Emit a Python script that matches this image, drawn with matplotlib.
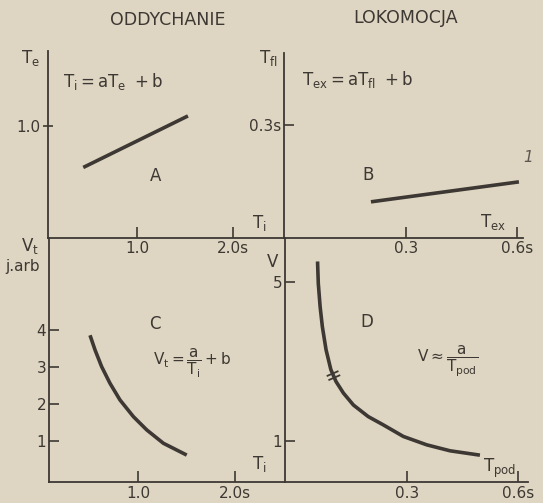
import matplotlib.pyplot as plt
import numpy as np
from matplotlib.lines import Line2D

#------------------- dane -------------------
# A: T_i = a*T_e + b
a_x = [0.44, 1.53]
a_y = [0.63, 1.09]
# B: T_ex = a*T_fl + b
b_x = [0.205, 0.605]
b_y = [0.096, 0.149]
# C: V_t = a/T_i + b
c_x = [0.505, 0.557, 0.625, 0.711, 0.814, 0.952, 1.090, 1.261, 1.502]
c_y = [3.86, 3.46, 3.01, 2.56, 2.11, 1.66, 1.30, 0.94, 0.62]
# D: V = a/T_pod
d_x = [0.058, 0.060, 0.065, 0.071, 0.081, 0.094, 0.108, 0.128, 0.155,
       0.195, 0.236, 0.290, 0.353, 0.416, 0.497]
d_y = [5.52, 4.97, 4.38, 3.88, 3.30, 2.80, 2.50, 2.21, 1.91,
       1.62, 1.41, 1.12, 0.91, 0.76, 0.65]
d_break = 5

tyt = ['ODDYCHANIE', 'LOKOMOCJA']
#--------------------------------------------

tlo = '#ded6c2'
tusz = '#3d3833'
plt.rcParams['mathtext.default'] = 'regular'
plt.rcParams['font.family'] = 'DejaVu Sans'
plt.rcParams['text.color'] = tusz

W, H = 543, 503
fig = plt.figure(figsize=(W / 100, H / 100), dpi=100)
fig.patch.set_facecolor(tlo)


def osie(x0, x1, ytop, ybot):
    # pozycja w pikselach -> ulamki figury
    return fig.add_axes([x0 / W, (H - ybot) / H, (x1 - x0) / W, (ybot - ytop) / H])


def styl(ax, kier_y):
    ax.set_facecolor('none')
    for s in ['top', 'right']:
        ax.spines[s].set_visible(False)
    for s in ['left', 'bottom']:
        ax.spines[s].set_color(tusz)
        ax.spines[s].set_linewidth(1.3)
    ax.tick_params(axis='x', direction='in', length=8, width=1.2, color=tusz,
                   labelsize=11, labelcolor=tusz, pad=3)
    ax.tick_params(axis='y', direction=kier_y, length=7, width=1.2, color=tusz,
                   labelsize=11, labelcolor=tusz, pad=2)


axA = osie(48, 284, 51, 238)
axB = osie(284, 523, 53, 238)
axC = osie(49, 284, 238, 482)
axD = osie(285, 528, 238, 482)

for ax, k in zip([axA, axB, axC, axD], ['inout', 'in', 'in', 'in']):
    styl(ax, k)

lw = 2.6
kw = dict(color=tusz, lw=lw, solid_capstyle='butt', solid_joinstyle='round')
axA.plot(a_x, a_y, **kw)
axB.plot(b_x, b_y, **kw)
axC.plot(c_x, c_y, **kw)
axD.plot(d_x, d_y, **kw)

axA.set_xlim(0.073, 2.53)
axA.set_ylim(0, 1.67)
axB.set_xlim(-0.030, 0.616)
axB.set_ylim(0, 0.491)
axC.set_xlim(0.082, 2.505)
axC.set_ylim(-0.108, 6.49)
axD.set_xlim(-0.030, 0.627)
axD.set_ylim(-0.025, 6.11)

axA.set_xticks([1.0, 2.0], ['1.0', '2.0s'])
axA.set_yticks([1.0], ['1.0'])
axB.set_xticks([0.3, 0.6], ['0.3', '0.6s'])
axB.set_yticks([0.3], ['0.3s'])
axC.set_xticks([1.0, 2.0], ['1.0', '2.0s'])
axC.set_yticks([1, 2, 3, 4], ['1', '2', '3', '4'])
axD.set_xticks([0.3, 0.6], ['0.3', '0.6s'])
axD.set_yticks([1, 5], ['1', '5'])
axA.tick_params(axis='x', pad=2)
axB.tick_params(axis='x', pad=2)

# znak przerwy na krzywej D (miedzy dwoma punktami)
fig.canvas.draw()
p0 = axD.transData.transform((d_x[d_break], d_y[d_break]))
p1 = axD.transData.transform((d_x[d_break + 1], d_y[d_break + 1]))
t = (p1 - p0) / np.hypot(*(p1 - p0))
n = np.array([-t[1], t[0]])
srodek = (p0 + p1) / 2
for off in (-2.2, 2.2):
    c = srodek + t * off
    seg = np.array([c - n * 5.5, c + n * 5.5])
    fig.add_artist(Line2D(seg[:, 0], seg[:, 1], color=tusz, lw=1.3,
                          transform=None))

# opisy
def tekst(x, y, s, size=11, **kw):
    fig.text(x / W, 1 - y / H, s, size=size, ha='center', va='center', **kw)

tekst(168, 20, tyt[0], 12.5)
tekst(406, 18, tyt[1], 12.5)

tekst(30, 58, r'$T_e$', 12)
tekst(268, 58, r'$T_{fl}$', 12)
tekst(259, 223, r'$T_i$', 12)
tekst(493, 222, r'$T_{ex}$', 12)
tekst(30, 246, r'$V_t$', 12)
tekst(23, 266, 'j.arb', 11)
tekst(273, 262, 'V', 12)
tekst(259, 464, r'$T_i$', 12)
tekst(500, 468, r'$T_{pod}$', 12)

tekst(113, 82, r'$T_i = aT_e\ + b$', 12)
tekst(358, 80, r'$T_{ex} = aT_{fl}\ + b$', 12)
tekst(192, 364, r'$V_t = \dfrac{a}{T_i} + b$', 11)
tekst(448, 362, r'$V \approx \dfrac{a}{T_{pod}}$', 11)

tekst(156, 176, 'A', 12)
tekst(368, 175, 'B', 12)
tekst(155, 324, 'C', 12)
tekst(367, 322, 'D', 12)
tekst(528, 157, '1', 11, style='italic', alpha=0.8)

fig.savefig('out.png', dpi=100, facecolor=tlo)
